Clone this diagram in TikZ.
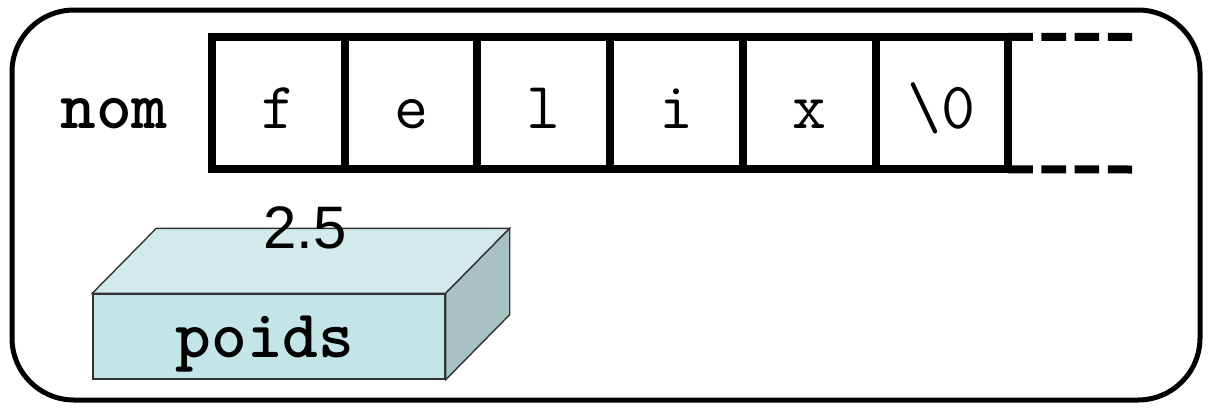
\documentclass[tikz,border=0pt]{standalone}
\usepackage{fontspec}
\setmainfont{Liberation Sans}
\setsansfont{Liberation Sans}
\usetikzlibrary{positioning,calc}
\definecolor{boxfront}{HTML}{C4E5E8}
\definecolor{boxtop}{HTML}{D2EAEC}
\definecolor{boxside}{HTML}{A8C2C4}
\tikzset{
  frame/.style  ={draw=black, line width=2.5pt, rounded corners=31pt},
  cell/.style   ={draw=black, line width=4pt, minimum width=66.35pt, minimum height=66.25pt,
                  inner sep=0pt, outer sep=0pt, anchor=west, text height=25pt, text depth=0pt,
                  font=\fontsize{33}{38}\selectfont\ttfamily},
  tail/.style   ={draw=black, line width=4pt, dash pattern=on 12.3pt off 4.3pt},
  varname/.style={font=\fontsize{34}{38}\selectfont\ttfamily\bfseries, inner sep=0pt, anchor=base},
  face/.style   ={draw=black!80, line width=0.7pt},
  valtxt/.style ={font=\fontsize{30}{34}\selectfont\sffamily, inner sep=0pt, anchor=base},
}

\begin{document}
\begin{tikzpicture}[x=0.5pt,y=-0.5pt]
  \useasboundingbox (0,0) rectangle (1211,414);
  \draw[frame] (12,10) rectangle (1200,400);
  % tableau nom
  \node[cell] (c1) at (212,103) {f};
  \node[cell, right=0mm of c1] (c2) {e};
  \node[cell, right=0mm of c2] (c3) {l};
  \node[cell, right=0mm of c3] (c4) {i};
  \node[cell, right=0mm of c4] (c5) {x};
  \node[cell, right=0mm of c5] (c6) {\textbackslash 0};
  \coordinate (tailtop) at (1132,37);
  \coordinate (tailbot) at (1132,169.5);
  \draw[tail] (c6.north east) -- (tailtop);
  \draw[tail] (c6.south east) -- (tailbot);
  \node[varname] (nom) at (114,128) {nom};
  % boite poids
  \node[face, fill=boxfront, minimum width=176pt, minimum height=42.5pt, inner sep=0pt] (front) at (269,336.5) {};
  \filldraw[face, fill=boxtop] (front.north west) -- ($(front.north west)+(64,-65)$)
    -- ($(front.north east)+(64,-65)$) -- (front.north east) -- cycle;
  \filldraw[face, fill=boxside] (front.north east) -- ($(front.north east)+(64,-65)$)
    -- ($(front.south east)+(64,-65)$) -- (front.south east) -- cycle;
  \node[varname] (poids) at (265,357) {poids};
  \node[valtxt] (val) at (305,248) {2.5};
\end{tikzpicture}
\end{document}
